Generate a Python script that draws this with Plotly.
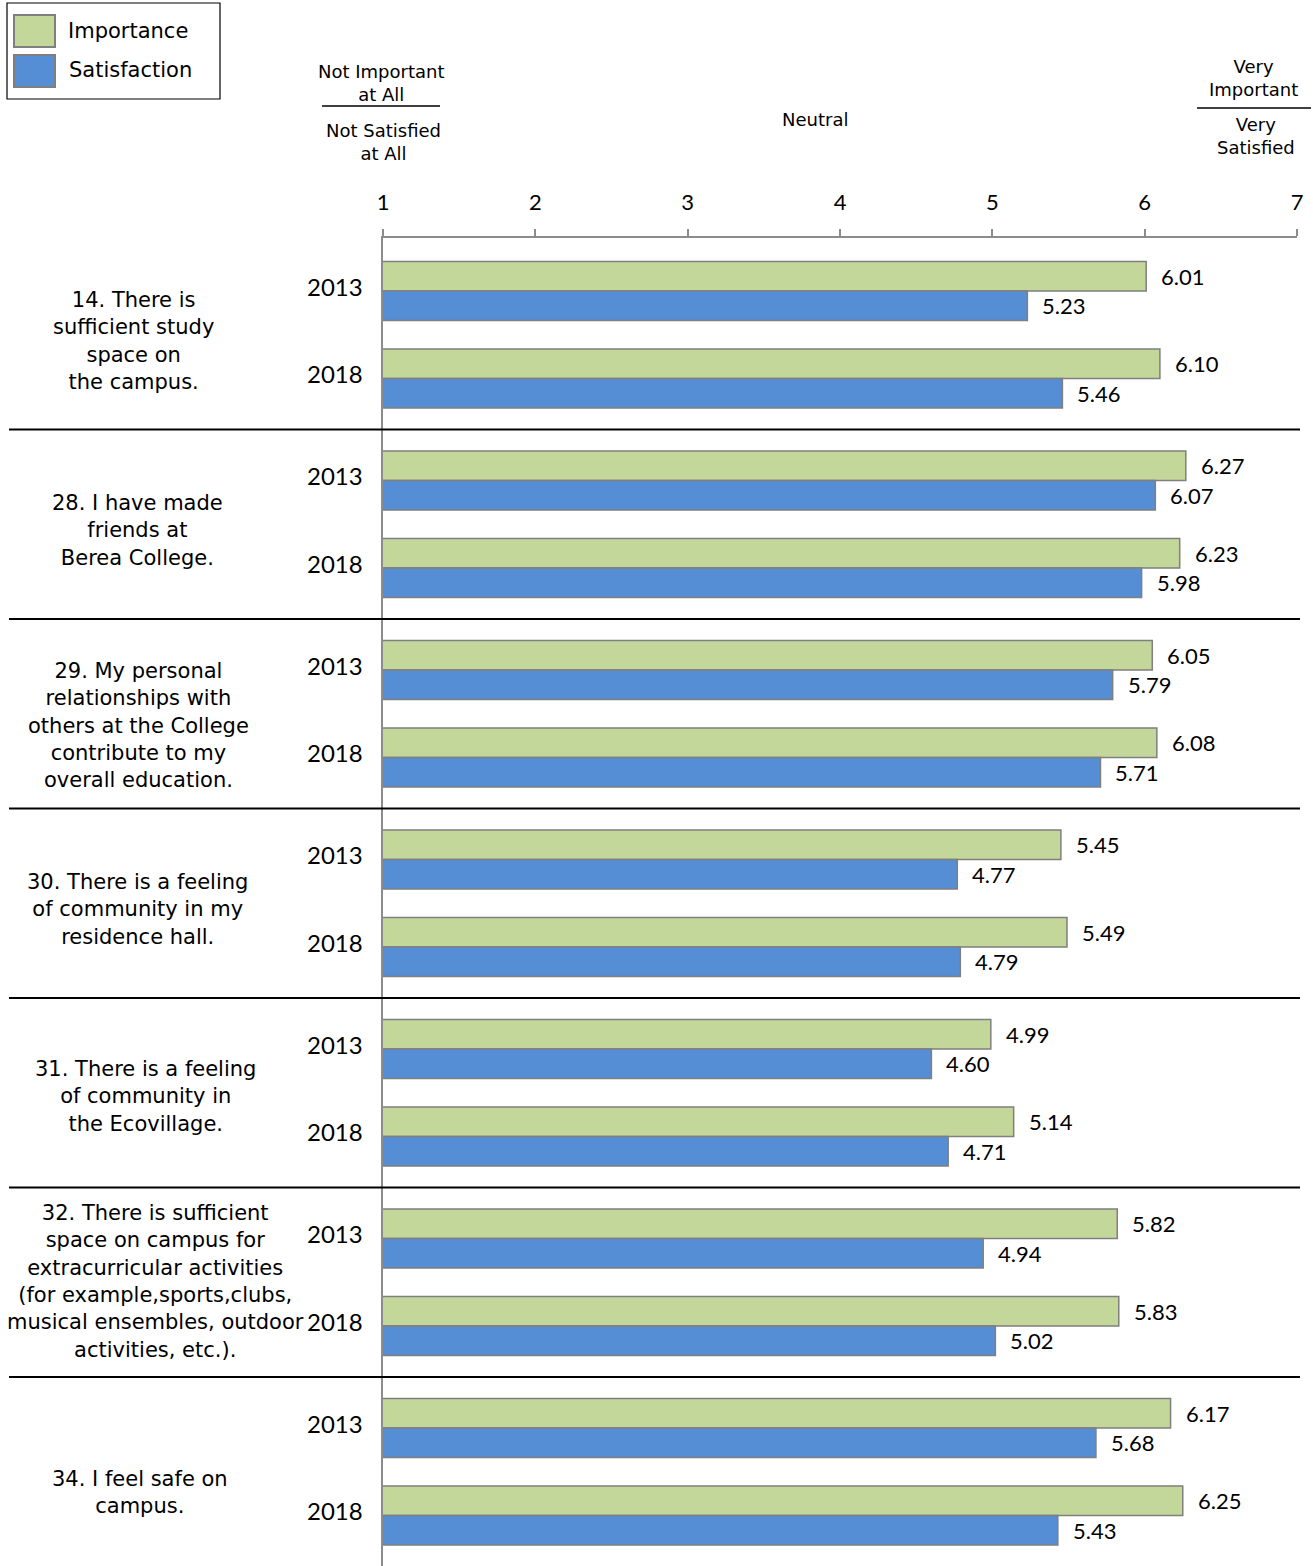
import plotly.graph_objects as go

# ---------------- data ----------------
questions = [
    "14. There is<br>sufficient study<br>space on<br>the campus.",
    "28. I have made<br>friends at<br>Berea College.",
    "29. My personal<br>relationships with<br>others at the College<br>contribute to my<br>overall education.",
    "30. There is a feeling<br>of community in my<br>residence hall.",
    "31. There is a feeling<br>of community in<br>the Ecovillage.",
    "32. There is sufficient<br>space on campus for<br>extracurricular activities<br>(for example,sports,clubs,<br>musical ensembles, outdoor<br>activities, etc.).",
    "34. I feel safe on<br>campus.",
]
years = ["2013", "2018"]
importance_2013 = [6.01, 6.27, 6.05, 5.45, 4.99, 5.82, 6.17]
importance_2018 = [6.10, 6.23, 6.08, 5.49, 5.14, 5.83, 6.25]
satisfaction_2013 = [5.23, 6.07, 5.79, 4.77, 4.60, 4.94, 5.68]
satisfaction_2018 = [5.46, 5.98, 5.71, 4.79, 4.71, 5.02, 5.43]
x_ticks = [1, 2, 3, 4, 5, 6, 7]

# ---------------- layout constants ----------------
W, H = 1313, 1566
L, R, T, B = 383, 16, 238, 0
FIRST = 291.0      # centre of first year pair (in axis units == px)
SEC_STEP = 189.5
YEAR_STEP = 87.5
BAR_W = 29.5
label_x_px = [133, 137, 138, 137, 146, 155, 140]
label_dy = [6, 6, 12, 6, 4, -1, 21]

GREEN = "#C4D79B"
BLUE = "#558ED5"
OUTLINE = "#7F7F7F"
AXIS = "#8C8C8C"
ARIAL = "DejaVu Sans"
CALIBRI = "Lato"

plot_w = W - L - R
plot_h = H - T - B


def px2x(p):
    return (p - L) / plot_w


def px2y(p):
    return (H - B - p) / plot_h


# build per-bar arrays
imp_vals, sat_vals, centers, year_lab = [], [], [], []
for g in range(len(questions)):
    for j, (iv, sv) in enumerate([(importance_2013[g], satisfaction_2013[g]),
                                  (importance_2018[g], satisfaction_2018[g])]):
        imp_vals.append(iv)
        sat_vals.append(sv)
        centers.append(FIRST + g * SEC_STEP + j * YEAR_STEP)
        year_lab.append(years[j])

imp_y = [c - BAR_W / 2 for c in centers]
sat_y = [c + BAR_W / 2 for c in centers]

fig = go.Figure()
fig.add_trace(go.Bar(
    name="Importance", orientation="h", x=imp_vals, y=imp_y, width=BAR_W,
    marker=dict(color=GREEN, line=dict(color=OUTLINE, width=1.5)),
    showlegend=False,
))
fig.add_trace(go.Bar(
    name="Satisfaction", orientation="h", x=sat_vals, y=sat_y, width=BAR_W,
    marker=dict(color=BLUE, line=dict(color=OUTLINE, width=1.5)),
    showlegend=False,
))

ann = []
# value labels
for v, y in zip(imp_vals, imp_y):
    ann.append(dict(x=v, y=y, xref="x", yref="y", text=f"{v:.2f}", showarrow=False,
                    xanchor="left", yanchor="middle", xshift=13,
                    font=dict(family=CALIBRI, size=22, color="#000")))
for v, y in zip(sat_vals, sat_y):
    ann.append(dict(x=v, y=y, xref="x", yref="y", text=f"{v:.2f}", showarrow=False,
                    xanchor="left", yanchor="middle", xshift=13,
                    font=dict(family=CALIBRI, size=22, color="#000")))
# year labels
for c, yl in zip(centers, year_lab):
    ann.append(dict(x=0, y=c - 5, xref="paper", yref="y", text=yl, showarrow=False,
                    xanchor="right", yanchor="middle", xshift=-18,
                    font=dict(family=CALIBRI, size=24, color="#000")))
# question labels
for g, q in enumerate(questions):
    mid = FIRST + g * SEC_STEP + YEAR_STEP / 2 + label_dy[g]
    ann.append(dict(x=px2x(label_x_px[g]), y=mid, xref="paper", yref="y", text=q,
                    showarrow=False, xanchor="center", yanchor="middle", align="center",
                    font=dict(family=ARIAL, size=21, color="#000")))

# header texts
hdr = dict(showarrow=False, xref="paper", yref="paper", xanchor="center", yanchor="middle",
           align="center", font=dict(family=ARIAL, size=18, color="#000"))
ann.append(dict(hdr, x=px2x(381), y=px2y(83), text="Not Important<br>at All"))
ann.append(dict(hdr, x=px2x(383), y=px2y(142), text="Not Satisfied<br>at All"))
ann.append(dict(hdr, x=px2x(815), y=px2y(119), text="Neutral"))
ann.append(dict(hdr, x=px2x(1253), y=px2y(78), text="Very<br>Important"))
ann.append(dict(hdr, x=px2x(1256), y=px2y(136), text="Very<br>Satisfied"))

# legend texts
leg = dict(showarrow=False, xref="paper", yref="paper", xanchor="left", yanchor="middle",
           font=dict(family=ARIAL, size=21, color="#000"))
ann.append(dict(leg, x=px2x(66), y=px2y(31), text="Importance"))
ann.append(dict(leg, x=px2x(67), y=px2y(70), text="Satisfaction"))

shapes = []
# section separators
for g in range(len(questions) - 1):
    yb = FIRST + g * SEC_STEP + YEAR_STEP + (SEC_STEP - YEAR_STEP) / 2
    shapes.append(dict(type="line", xref="paper", yref="paper",
                       x0=px2x(9), x1=px2x(1300), y0=px2y(yb), y1=px2y(yb),
                       line=dict(color="#000", width=2)))
# header rules
shapes.append(dict(type="line", xref="paper", yref="paper", x0=px2x(322), x1=px2x(440),
                   y0=px2y(106), y1=px2y(106), line=dict(color="#000", width=1.5)))
shapes.append(dict(type="line", xref="paper", yref="paper", x0=px2x(1197), x1=px2x(1311),
                   y0=px2y(108), y1=px2y(108), line=dict(color="#000", width=1.5)))
# legend box & swatches
shapes.append(dict(type="rect", xref="paper", yref="paper", x0=px2x(7), x1=px2x(220),
                   y0=px2y(99), y1=px2y(3), line=dict(color="#000", width=1.2),
                   fillcolor="rgba(0,0,0,0)"))
shapes.append(dict(type="rect", xref="paper", yref="paper", x0=px2x(14), x1=px2x(55),
                   y0=px2y(47), y1=px2y(15), line=dict(color=OUTLINE, width=2),
                   fillcolor=GREEN))
shapes.append(dict(type="rect", xref="paper", yref="paper", x0=px2x(14), x1=px2x(55),
                   y0=px2y(87), y1=px2y(55), line=dict(color=OUTLINE, width=2),
                   fillcolor=BLUE))

fig.update_layout(
    width=W, height=H,
    margin=dict(l=L, r=R, t=T, b=B, pad=0),
    paper_bgcolor="white", plot_bgcolor="white",
    barmode="overlay",
    annotations=ann, shapes=shapes,
    showlegend=False,
    xaxis=dict(range=[1, 7], side="top", tickvals=x_ticks, ticktext=[str(t) for t in x_ticks],
               showgrid=False, zeroline=False, showline=True, linecolor=AXIS, linewidth=1.5,
               ticks="outside", ticklen=7, tickcolor=AXIS, tickwidth=1.5,
               ticklabelstandoff=10,
               tickfont=dict(family=CALIBRI, size=22, color="#000"), fixedrange=True),
    yaxis=dict(range=[H - B, T], showgrid=False, zeroline=False, showline=True,
               linecolor=AXIS, linewidth=1.5, showticklabels=False, ticks="",
               fixedrange=True),
)

fig.write_html("out.html",
               config={"displayModeBar": False},
               post_script="document.body.style.margin='0';document.body.style.padding='0';")
